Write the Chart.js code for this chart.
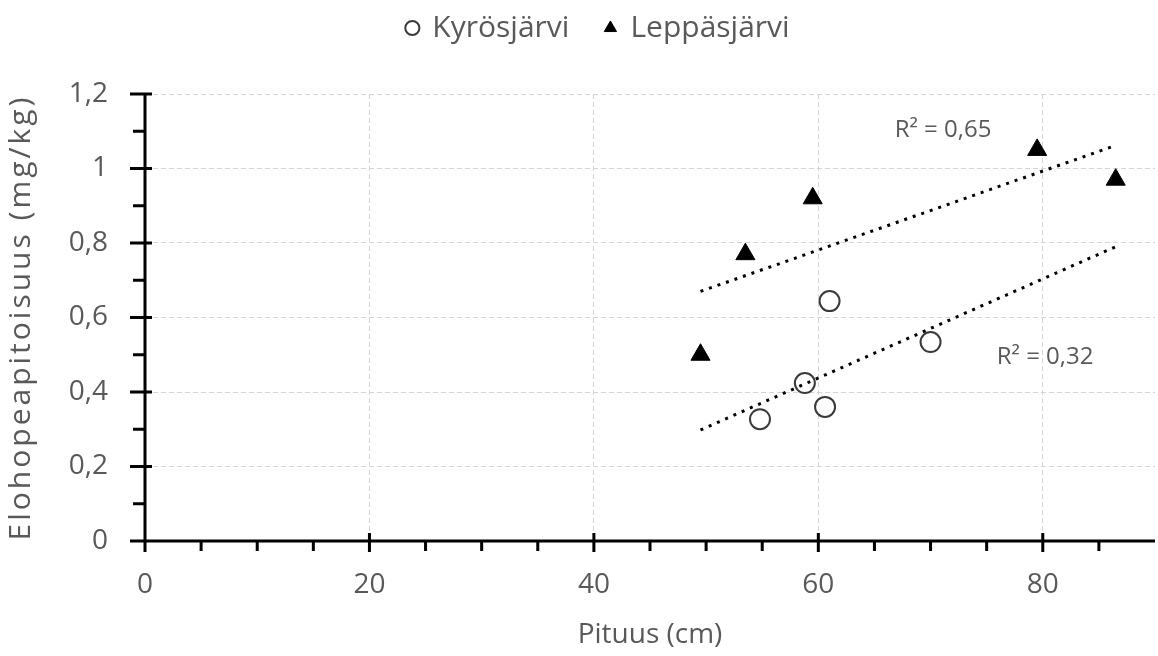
<!DOCTYPE html>
<html>
<head>
<meta charset="utf-8">
<script src="https://cdn.jsdelivr.net/npm/chart.js@4.4.1/dist/chart.umd.min.js"></script>
<style>
  html, body { margin: 0; padding: 0; background: #fff; }
  #wrap { width: 1158px; height: 656px; }
</style>
</head>
<body>
<div id="wrap"><canvas id="scatter-chart" width="1158" height="656"></canvas></div>
<script>
// lakes
const lakeNames = ["Kyrösjärvi", "Leppäsjärvi"];

// Kyrösjärvi: length (cm) and mercury (mg/kg)
const kyroLength = [54.8, 58.8, 60.6, 61.0, 70.0];
const kyroHg = [0.327, 0.424, 0.36, 0.644, 0.534];

// Leppäsjärvi
const leppaLength = [49.5, 53.5, 59.5, 79.5, 86.5];
const leppaHg = [0.50, 0.77, 0.92, 1.05, 0.97];

// trendline end points
const kyroTrendX = [49.5, 86.5];
const kyroTrendY = [0.298, 0.79];
const leppaTrendX = [49.5, 86.5];
const leppaTrendY = [0.670, 1.062];

// R² labels (text, anchor x, anchor y in data units)
const r2Text = ["R² = 0,32", "R² = 0,65"];
const r2X = [75.9, 66.8];
const r2Y = [0.494, 1.103];

// axis ticks
const xTicks = [0, 20, 40, 60, 80];
const yTicks = [0, 0.2, 0.4, 0.6, 0.8, 1.0, 1.2];
const xMinor = [5, 10, 15, 25, 30, 35, 45, 50, 55, 65, 70, 75, 85];
const yMinor = [0.1, 0.3, 0.5, 0.7, 0.9, 1.1];

const textGray = "#595959";
Chart.defaults.font.family = "'Open Sans', sans-serif";
Chart.defaults.color = textGray;

const toPoints = (xs, ys) => xs.map((x, i) => ({ x: x, y: ys[i] }));
const fmt = (v) => String(Math.round(v * 10) / 10).replace(".", ",");

// Excel style axes: thick black lines, major ticks cross, minor ticks outside
const excelAxes = {
  id: "excelAxes",
  afterInit(chart) {
    const legend = chart.legend;
    const fit = legend.fit;
    legend.fit = function () {
      fit.call(this);
      this.height = 94;
    };
  },
  afterLayout(chart) {
    const l = chart.legend;
    l.left += 21; l.right += 21;
    l.top -= 23; l.bottom -= 23;
    // y title is letter spaced in the original
    const y = chart.scales.y;
    if (!y._spaced) {
      const drawTitle = y.drawTitle;
      y.drawTitle = function () {
        const ctx = this.ctx;
        ctx.save();
        ctx.letterSpacing = "3px";
        drawTitle.apply(this, arguments);
        ctx.restore();
      };
      y._spaced = true;
    }
  },
  beforeDatasetsDraw(chart) {
    const { ctx, chartArea, scales } = chart;
    const x0 = chartArea.left, y0 = chartArea.bottom;
    ctx.save();
    ctx.strokeStyle = "#000";
    ctx.lineWidth = 3;
    ctx.beginPath();
    ctx.moveTo(x0, chartArea.top);
    ctx.lineTo(x0, y0);
    ctx.lineTo(chartArea.right, y0);
    yTicks.forEach((v) => {
      const py = scales.y.getPixelForValue(v);
      ctx.moveTo(x0 - 15, py); ctx.lineTo(x0 + 7, py);
    });
    yMinor.forEach((v) => {
      const py = scales.y.getPixelForValue(v);
      ctx.moveTo(x0 - 12, py); ctx.lineTo(x0, py);
    });
    xTicks.forEach((v) => {
      const px = scales.x.getPixelForValue(v);
      ctx.moveTo(px, y0 - 8); ctx.lineTo(px, y0 + 11);
    });
    xMinor.forEach((v) => {
      const px = scales.x.getPixelForValue(v);
      ctx.moveTo(px, y0); ctx.lineTo(px, y0 + 10);
    });
    ctx.stroke();
    ctx.restore();
  },
  afterDatasetsDraw(chart) {
    const { ctx, scales } = chart;
    ctx.save();
    ctx.fillStyle = textGray;
    ctx.font = "24px 'Open Sans', sans-serif";
    ctx.textAlign = "left";
    ctx.textBaseline = "middle";
    r2Text.forEach((t, i) => {
      ctx.fillText(t, scales.x.getPixelForValue(r2X[i]), scales.y.getPixelForValue(r2Y[i]));
    });
    ctx.restore();
  },
};

const config = {
  type: "scatter",
  data: {
    datasets: [
      {
        label: lakeNames[0],
        data: toPoints(kyroLength, kyroHg),
        pointStyle: "circle",
        pointRadius: 10,
        pointBorderWidth: 2,
        borderColor: "#3a3a3a",
        backgroundColor: "#ffffff",
        order: 1,
      },
      {
        label: lakeNames[1],
        data: toPoints(leppaLength, leppaHg),
        pointStyle: "triangle",
        pointRadius: 11,
        pointBorderWidth: 1,
        borderColor: "#000",
        backgroundColor: "#000",
        order: 1,
      },
      {
        label: "trend " + lakeNames[0],
        data: toPoints(kyroTrendX, kyroTrendY),
        showLine: true,
        pointRadius: 0,
        borderColor: "#000",
        borderWidth: 3,
        borderDash: [3, 6],
        order: 0,
      },
      {
        label: "trend " + lakeNames[1],
        data: toPoints(leppaTrendX, leppaTrendY),
        showLine: true,
        pointRadius: 0,
        borderColor: "#000",
        borderWidth: 3,
        borderDash: [3, 6],
        order: 0,
      },
    ],
  },
  options: {
    responsive: false,
    animation: false,
    devicePixelRatio: 1,
    layout: { autoPadding: false, padding: { left: 0, right: 3, top: 0, bottom: 0 } },
    plugins: {
      tooltip: { enabled: false },
      legend: {
        position: "top",
        labels: {
          usePointStyle: true,
          boxWidth: 10,
          boxHeight: 10,
          padding: 36,
          color: textGray,
          font: { size: 30 },
          filter: (item) => item.datasetIndex < 2,
        },
      },
    },
    scales: {
      x: {
        type: "linear",
        min: 0,
        max: 90,
        afterBuildTicks: (scale) => { scale.ticks = xTicks.map((v) => ({ value: v })); },
        afterFit: (scale) => {
          scale.height = 115;
          scale.paddingLeft = 0;
          scale.paddingRight = 0;
        },
        ticks: { font: { size: 28 }, padding: 27, maxRotation: 0, color: textGray },
        grid: {
          drawTicks: false,
          color: (c) => (c.tick && c.tick.value === 0 ? "rgba(0,0,0,0)" : "#d4d4d4"),
          lineWidth: 1,
        },
        border: { display: false, dash: [5, 3] },
        title: {
          display: true,
          text: "Pituus (cm)",
          color: textGray,
          font: { size: 28 },
          padding: { top: 0, bottom: 4 },
        },
      },
      y: {
        min: 0,
        max: 1.2,
        afterBuildTicks: (scale) => { scale.ticks = yTicks.map((v) => ({ value: v })); },
        afterFit: (scale) => { scale.width = 145; },
        ticks: { font: { size: 28 }, padding: 37, color: textGray, callback: (v) => fmt(v) },
        grid: {
          drawTicks: false,
          color: (c) => (c.tick && c.tick.value === 0 ? "rgba(0,0,0,0)" : "#d4d4d4"),
          lineWidth: 1,
        },
        border: { display: false, dash: [5, 3] },
        title: {
          display: true,
          text: "Elohopeapitoisuus (mg/kg)",
          color: textGray,
          font: { size: 30 },
          padding: { top: 3, bottom: 0 },
        },
      },
    },
  },
  plugins: [excelAxes],
};

new Chart(document.getElementById("scatter-chart").getContext("2d"), config);
</script>
</body>
</html>
